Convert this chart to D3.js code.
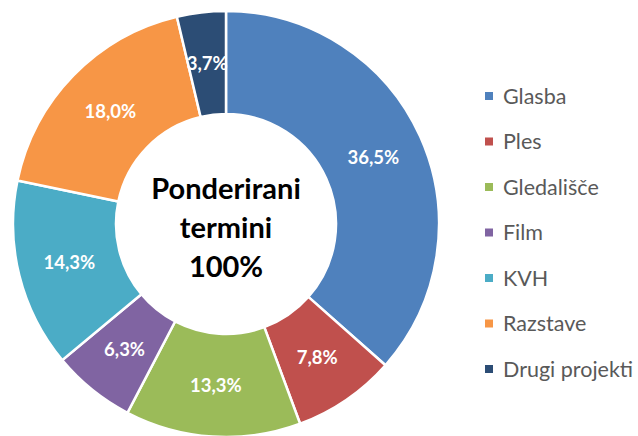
<!DOCTYPE html>
<html>
<head>
<style>
  body { margin: 0; background: #fff; }
  svg { display: block; font-family: Lato, "Open Sans", sans-serif; }
</style>
</head>
<body>
<div id="chart"></div>
<script src="https://d3js.org/d3.v7.min.js"></script>
<script>
const categories = ['Glasba', 'Ples', 'Gledališče', 'Film', 'KVH', 'Razstave', 'Drugi projekti'];
const values = [36.5, 7.8, 13.3, 6.3, 14.3, 18.0, 3.7];
const colors = ['#4F81BD', '#C0504D', '#9BBB59', '#8064A2', '#4BACC6', '#F79646', '#2C4D75'];
const centerLines = ['Ponderirani', 'termini', '100%'];

const width = 638, height = 436;
const cx = 226, cy = 224;
const outerR = 213, innerR = 110;

const svg = d3.select('#chart').append('svg')
  .attr('width', width)
  .attr('height', height);

const data = categories.map((c, i) => ({ name: c, value: values[i], color: colors[i] }));

const pie = d3.pie().value(d => d.value).sort(null);
const arc = d3.arc().innerRadius(innerR).outerRadius(outerR);
const labelArc = d3.arc().innerRadius((innerR + outerR) / 2).outerRadius((innerR + outerR) / 2);

const g = svg.append('g').attr('transform', `translate(${cx},${cy})`);

const slices = g.selectAll('g.slice')
  .data(pie(data))
  .enter()
  .append('g')
  .attr('class', 'slice');

slices.append('path')
  .attr('d', arc)
  .attr('fill', d => d.data.color)
  .attr('stroke', '#fff')
  .attr('stroke-width', 2.5);

slices.append('text')
  .attr('transform', d => `translate(${labelArc.centroid(d)})`)
  .attr('text-anchor', 'middle')
  .attr('dy', '0.35em')
  .attr('fill', '#fff')
  .attr('font-weight', 'bold')
  .attr('font-size', 18.5)
  .text(d => d3.format('.1f')(d.data.value).replace('.', ',') + '%');

// center text
g.selectAll('text.center')
  .data(centerLines)
  .enter()
  .append('text')
  .attr('class', 'center')
  .attr('text-anchor', 'middle')
  .attr('y', (d, i) => -25 + i * 39)
  .attr('font-size', 29)
  .attr('font-weight', 'bold')
  .attr('fill', '#000')
  .text(d => d);

// legend
const legend = svg.append('g').attr('transform', 'translate(485,96)');
const rows = legend.selectAll('g')
  .data(data)
  .enter()
  .append('g')
  .attr('transform', (d, i) => `translate(0,${i * 45.5})`);

rows.append('rect')
  .attr('x', 0)
  .attr('y', -4)
  .attr('width', 8)
  .attr('height', 8)
  .attr('fill', d => d.color);

rows.append('text')
  .attr('x', 18)
  .attr('dy', '0.35em')
  .attr('font-size', 21.5)
  .attr('fill', '#595959')
  .text(d => d.name);
</script>
</body>
</html>
